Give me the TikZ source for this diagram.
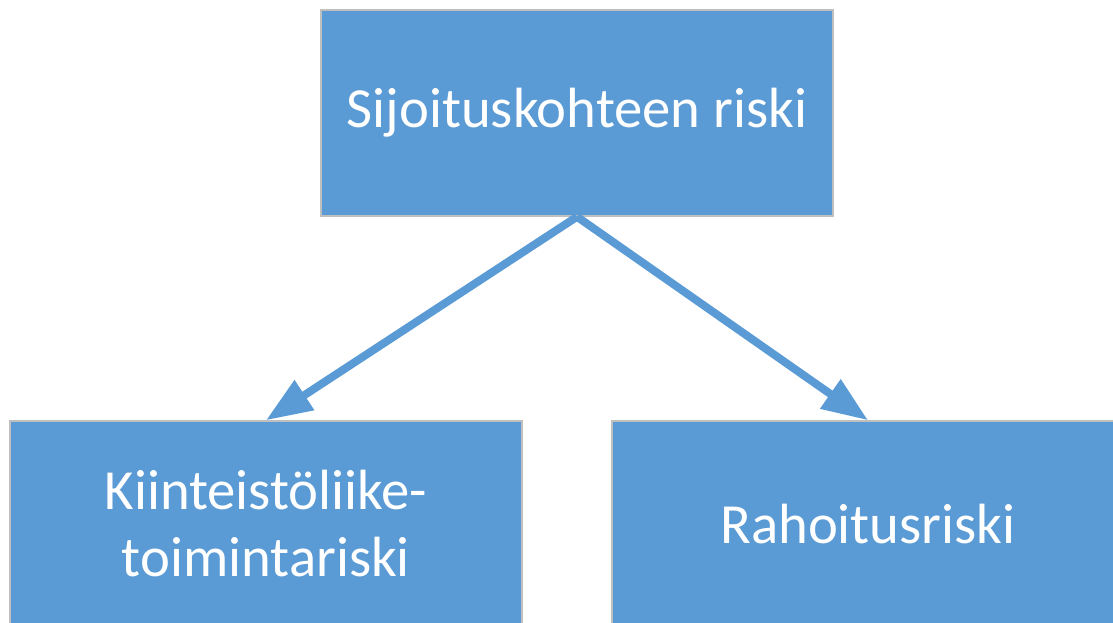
\documentclass[tikz,border=0pt]{standalone}
\usepackage{fontspec}
\setmainfont{Carlito}
\usetikzlibrary{arrows.meta}
\definecolor{boxblue}{HTML}{5B9BD5}
\definecolor{boxedge}{HTML}{BFBFBF}
\begin{document}
\begin{tikzpicture}[x=1pt,y=-1pt,
  riskbox/.style={rectangle, fill=boxblue, draw=boxedge, line width=1.5pt,
    minimum width=512pt, minimum height=206pt, inner sep=0pt, text=white,
    align=center, font=\fontsize{56.7}{67}\selectfont},
  link/.style={draw=boxblue, line width=8pt,
    -{Triangle[length=46pt,width=34pt]}}]
\clip (0,0) rectangle (1113,622);
\useasboundingbox (0,0) rectangle (1113,622);
\node[riskbox] (top) at (577,113) {\raisebox{-4pt}{Sijoituskohteen riski}};
\node[riskbox] (left) at (266,524) {Kiinteistöliike-\\toimintariski};
\node[riskbox] (right) at (868,524) {Rahoitusriski};
\draw[link] (top.south) -- (left.north);
\draw[link] (top.south) -- (right.north);
\end{tikzpicture}
\end{document}
